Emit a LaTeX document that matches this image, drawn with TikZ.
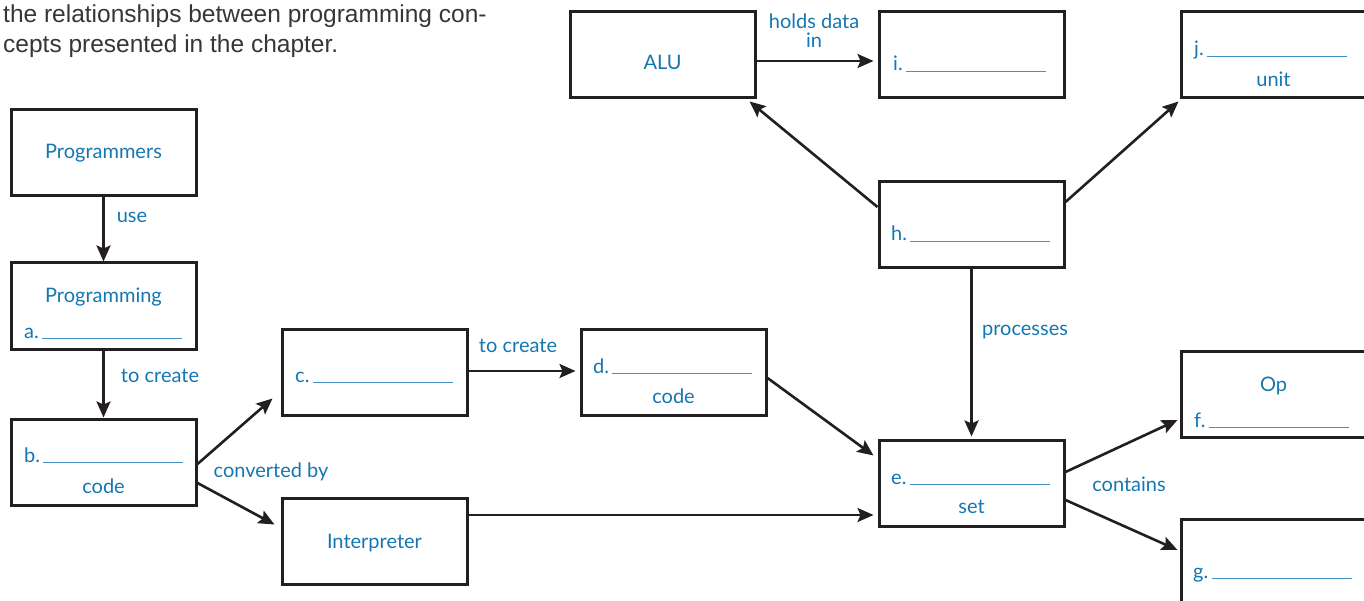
\documentclass[tikz,border=0pt]{standalone}
\usepackage{fontspec}
\setmainfont{Liberation Sans}
\newfontfamily\lblfont{Lato}
\usetikzlibrary{arrows.meta,calc}
\definecolor{lblblue}{RGB}{20,118,178}
\definecolor{ink}{RGB}{35,31,32}
\newcommand{\blankline}{\textcolor{lblblue!80}{\rule[-1pt]{140pt}{1pt}}}
\tikzset{
  box/.style={draw=ink, line width=3pt, minimum width=185pt, minimum height=86pt, inner sep=0pt},
  lbl/.style={text=lblblue, font=\lblfont\fontsize{20}{22}\selectfont, inner sep=0pt},
  arr/.style={draw=ink, line width=2.6pt, -{Stealth[length=16pt,width=14pt,inset=3pt]}},
  para/.style={text=ink!90, font=\fontsize{24.5}{30}\selectfont, inner sep=0pt, anchor=base west}
}
\begin{document}
\begin{tikzpicture}[x=1pt,y=-1pt]
\useasboundingbox (0,0) rectangle (1364,601);
% paragraph
\node[para] (p1) at (3,23) {the relationships between programming con-};
\node[para] (p2) at (3,53) {cepts presented in the chapter.};
% boxes
\node[box] (prog) at (103.5,153) {};
\node[box] (pa) at (103.5,306) {};
\node[box] (pb) at (103.5,462) {};
\node[box] (pc) at (374.5,372) {};
\node[box] (interp) at (374.5,541) {};
\node[box] (pd) at (673.5,372) {};
\node[box] (pe) at (971.5,483) {};
\node[box] (ph) at (971.5,225) {};
\node[box] (alu) at (662.5,55) {};
\node[box] (pi) at (971.5,55) {};
\node[box] (pj) at (1273.5,55) {};
\node[box] (pf) at (1273.5,394) {};
\node[box] (pg) at (1273.5,562) {};
% box texts
\node[lbl] (tprog) at (103.5,153) {Programmers};
\node[lbl] (tpa1) at (103.5,297) {Programming};
\node[lbl, anchor=base west] (tpa2) at (24,338) {a.\,\blankline};
\node[lbl, anchor=base west] (tpb1) at (24,462) {b.\,\blankline};
\node[lbl] (tpb2) at (103.5,486) {code};
\node[lbl, anchor=base west] (tpc) at (295,382) {c.\,\blankline};
\node[lbl] (tint) at (374.5,543) {Interpreter};
\node[lbl, anchor=base west] (tpd1) at (593,373) {d.\,\blankline};
\node[lbl] (tpd2) at (673.5,396) {code};
\node[lbl, anchor=base west] (tpe1) at (891,484) {e.\,\blankline};
\node[lbl] (tpe2) at (971.5,507) {set};
\node[lbl, anchor=base west] (tph) at (891,241) {h.\,\blankline};
\node[lbl] (talu) at (662.5,62) {ALU};
\node[lbl, anchor=base west] (tpi) at (893,71) {i.\,\blankline};
\node[lbl, anchor=base west] (tpj1) at (1194,56) {j.\,\blankline};
\node[lbl] (tpj2) at (1273.5,79) {unit};
\node[lbl] (tpf1) at (1273.5,386) {Op};
\node[lbl, anchor=base west] (tpf2) at (1194,427) {f.\,\blankline};
\node[lbl, anchor=base west] (tpg) at (1193,578) {g.\,\blankline};
% connectors
\draw[arr] (prog.south) -- (pa.north);
\draw[arr] (pa.south) -- (pb.north);
\draw[arr] ($(pb.east)+(0,2)$) -- ($(pc.south west)+(-8,-18)$);
\draw[arr] ($(pb.east)+(0,21)$) -- ($(interp.north west)+(-6,28)$);
\draw[arr] ($(pc.east)+(0,-1)$) -- ($(pd.west)+(-4,-1)$);
\draw[arr] ($(pd.east)+(0,6)$) -- ($(pe.north west)+(-4,17)$);
\draw[arr] ($(interp.east)+(0,-26)$) -- ($(pe.west)+(-4,32)$);
\draw[arr] (ph.south) -- ($(pe.north)+(0,-2)$);
\draw[arr] ($(ph.west)+(0,-18)$) -- ($(alu.south east)+(-7,2)$);
\draw[arr] ($(ph.east)+(0,-23)$) -- ($(pj.south west)+(-1,2)$);
\draw[arr] ($(alu.east)+(0,6)$) -- ($(pi.west)+(-4,6)$);
\draw[arr] ($(pe.east)+(0,-11)$) -- ($(pf.west)+(-2,26)$);
\draw[arr] ($(pe.east)+(0,17)$) -- ($(pg.west)+(-2,-12)$);
% connector labels
\node[lbl] (luse) at (132,217) {use};
\node[lbl] (lcreate1) at (160,376) {to create};
\node[lbl] (lconv) at (271,472) {converted by};
\node[lbl] (lcreate2) at (518,346) {to create};
\node[lbl] (lproc) at (1025,332) {processes};
\node[lbl, anchor=base] (lhold1) at (814,29) {holds data};
\node[lbl, anchor=base] (lhold2) at (814,48) {in};
\node[lbl] (lcont) at (1129,484) {contains};
\end{tikzpicture}
\end{document}
